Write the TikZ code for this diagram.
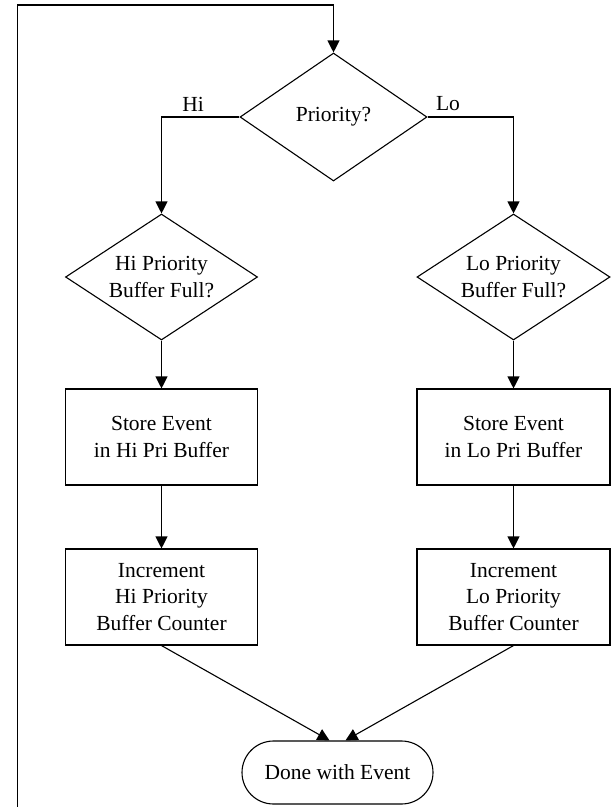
\documentclass[tikz,border=0pt]{standalone}
\usepackage{fontspec}
\setmainfont{Liberation Serif}
\usetikzlibrary{shapes.geometric,arrows.meta,calc}

\begin{document}
\begin{tikzpicture}[x=1pt,y=-1pt,
  every node/.style={font=\fontsize{21.5}{26.5}\selectfont, align=center},
  line/.style={line width=1.1pt},
  flow/.style={line, -{Triangle[length=12pt,width=12pt]}},
  decision/.style={draw, line width=1.1pt, diamond, inner sep=-14pt},
  process/.style={draw, line width=1.1pt, rectangle, minimum width=192pt, minimum height=96pt, inner sep=0pt},
  terminal/.style={draw, line width=1.1pt, rectangle, rounded corners=31.5pt, minimum width=191pt, minimum height=63pt, inner sep=0pt},
  tag/.style={inner sep=0pt}]

  \useasboundingbox (0,0) rectangle (611,807);

  % decisions
  \node[decision, minimum width=187pt, minimum height=128pt] (prio) at (333.5,117) {Priority?};
  \node[decision, minimum width=192pt, minimum height=126pt] (hifull) at (161.5,277) {Hi Priority\\Buffer Full?};
  \node[decision, minimum width=193pt, minimum height=126pt] (lofull) at (513.5,277) {Lo Priority\\Buffer Full?};

  % processes
  \node[process] (histore) at (161.5,437) {Store Event\\in Hi Pri Buffer};
  \node[process, minimum width=193pt] (lostore) at (513.5,437) {Store Event\\in Lo Pri Buffer};
  \node[process] (hiinc) at (161.5,597) {Increment\\Hi Priority\\Buffer Counter};
  \node[process, minimum width=193pt] (loinc) at (513.5,597) {Increment\\Lo Priority\\Buffer Counter};

  % end
  \node[terminal] (done) at (337.5,772.5) {Done with Event};

  % branch labels
  \node[tag] (hitag) at (193,104) {Hi};
  \node[tag] (lotag) at (448,104) {Lo};

  % return path into the first decision
  \coordinate (loopin) at (17.5,807);
  \coordinate (looptop) at (17.5,5);
  \draw[flow] (loopin) -- (looptop) -| (prio.north);

  % branches
  \draw[flow] (prio.west) -| (hifull.north);
  \draw[flow] (prio.east) -| (lofull.north);

  \draw[flow] (hifull.south) -- (histore.north);
  \draw[flow] (lofull.south) -- (lostore.north);
  \draw[flow] (histore.south) -- (hiinc.north);
  \draw[flow] (lostore.south) -- (loinc.north);

  \draw[flow] (hiinc.south) -- ($(done.north)+(-8,0)$);
  \draw[flow] (loinc.south) -- ($(done.north)+(8,0)$);
\end{tikzpicture}
\end{document}
